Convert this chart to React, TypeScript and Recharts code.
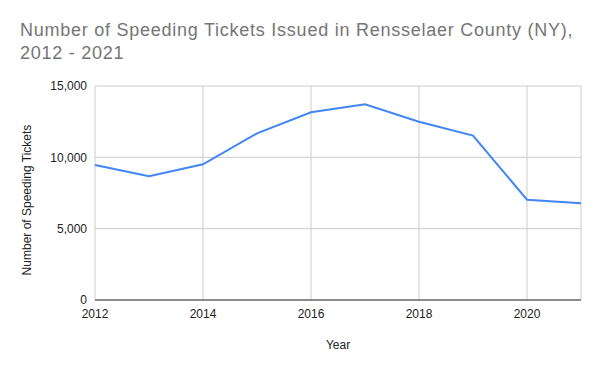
import React from 'react';
import { LineChart, Line, XAxis, YAxis, CartesianGrid } from 'recharts';

// Speeding tickets per year
const years = [2012, 2013, 2014, 2015, 2016, 2017, 2018, 2019, 2020, 2021];
const tickets = [9460, 8670, 9510, 11680, 13160, 13720, 12500, 11520, 7030, 6780];
const xTicks = [2012, 2014, 2016, 2018, 2020];
const yTicks = [0, 5000, 10000, 15000];

const FONT = '"Liberation Sans", Arial, sans-serif';

const data = years.map((year, i) => ({ year, tickets: tickets[i] }));

export default function App() {
  return (
    <div style={{ position: 'absolute', left: 0, top: 0, width: 600, height: 371, background: '#fff', fontFamily: FONT }}>
      <div
        style={{
          position: 'absolute',
          left: 20,
          top: 19,
          fontSize: 18,
          lineHeight: '23px',
          letterSpacing: '0.75px',
          color: '#757575',
          whiteSpace: 'nowrap',
        }}
      >
        Number of Speeding Tickets Issued in Rensselaer County (NY),
        <br />
        2012 - 2021
      </div>
      <LineChart width={600} height={371} data={data} margin={{ top: 86, right: 19, left: 0, bottom: 0 }}>
        <CartesianGrid stroke="#cccccc" strokeWidth={1} />
        <XAxis
          dataKey="year"
          type="number"
          domain={[2012, 2021]}
          ticks={xTicks}
          height={71}
          tickLine={false}
          tickMargin={3}
          axisLine={{ stroke: '#333333' }}
          tick={{ fontSize: 12, fill: '#222222', fontFamily: FONT }}
          label={{
            content: ({ viewBox }: any) => (
              <text
                x={viewBox.x + viewBox.width / 2}
                y={349}
                textAnchor="middle"
                fontSize={12}
                fill="#222222"
                fontFamily={FONT}
              >
                Year
              </text>
            ),
          }}
        />
        <YAxis
          type="number"
          domain={[0, 15000]}
          ticks={yTicks}
          width={95}
          axisLine={false}
          tickLine={false}
          tick={{ fontSize: 12, fill: '#222222', fontFamily: FONT }}
          tickFormatter={(v: number) => v.toLocaleString('en-US')}
          label={{
            content: () => (
              <text
                x={31}
                y={200}
                transform="rotate(-90 31 200)"
                textAnchor="middle"
                fontSize={12}
                fill="#222222"
                fontFamily={FONT}
              >
                Number of Speeding Tickets
              </text>
            ),
          }}
        />
        <Line
          type="linear"
          dataKey="tickets"
          stroke="#4285f4"
          strokeWidth={2}
          dot={false}
          isAnimationActive={false}
        />
      </LineChart>
    </div>
  );
}
